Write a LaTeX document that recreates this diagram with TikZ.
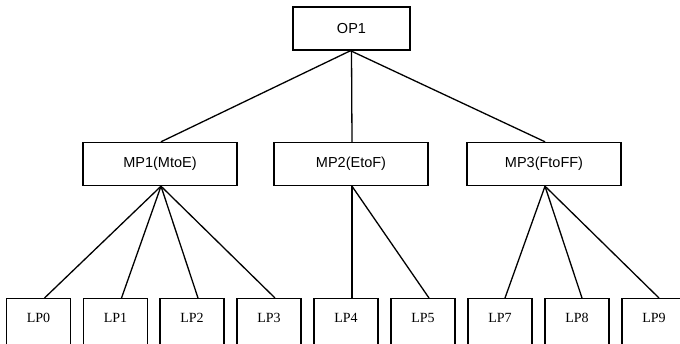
\documentclass[tikz,border=0pt]{standalone}
\usepackage{fontspec}
\setmainfont{Liberation Serif}
\setsansfont{Liberation Sans}
\begin{document}
\begin{tikzpicture}[x=1pt,y=-1pt,
  upbox/.style={draw,line width=1.4pt,font=\sffamily\fontsize{14.5}{16}\selectfont,inner sep=0pt,minimum height=43pt},
  lpbox/.style={draw,line width=1.4pt,inner sep=0pt,minimum width=64pt,minimum height=60pt},
  lptext/.style={font=\rmfamily\fontsize{14}{16}\selectfont,inner sep=0pt},
  link/.style={line width=1.3pt}]
\useasboundingbox (0,0) rectangle (680,344);
\clip (0,0) rectangle (680,344);
\node[upbox,minimum width=117pt] (op1) at (351.5,28.5) {OP1};
\node[upbox,minimum width=154pt] (mp1) at (160,164) {MP1(MtoE)};
\node[upbox,minimum width=154pt] (mp2) at (351,164) {MP2(EtoF)};
\node[upbox,minimum width=154pt] (mp3) at (544,164) {MP3(FtoFF)};
\foreach \n/\x in {0/38.5,1/115.5,2/192,3/269,4/346,5/423,7/500,8/577,9/654}{
  \node[lpbox,anchor=north] (lp\n) at (\x,298) {};
  \node[lptext] (lpt\n) at (\x,318) {LP\n};
}
\draw[link] ([xshift=-1pt]op1.south) -- ([xshift=1pt]mp1.north);
\draw[link] (op1.south) -- ([xshift=1pt]mp2.north);
\draw[link] ([xshift=-1pt]op1.south) -- ([xshift=1pt]mp3.north);
\foreach \n in {0,1,2,3}{\draw[link] ([xshift=1pt]mp1.south) -- ([xshift=6pt]lp\n.north);}
\foreach \n in {4,5}{\draw[link] ([xshift=1pt]mp2.south) -- ([xshift=6pt]lp\n.north);}
\foreach \n in {7,8,9}{\draw[link] ([xshift=1pt]mp3.south) -- ([xshift=5pt]lp\n.north);}
\end{tikzpicture}
\end{document}
